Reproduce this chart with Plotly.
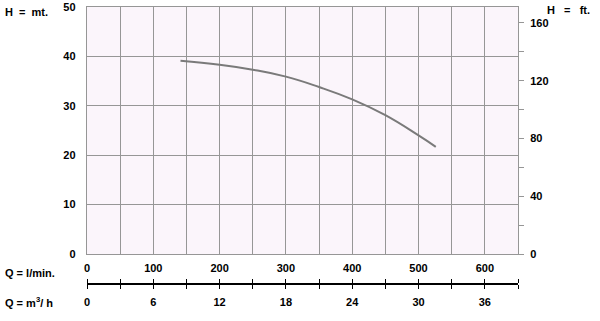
import plotly.graph_objects as go

# ---- data ----
q_lpm = [141, 200, 250, 300, 350, 400, 450, 500, 526]
h_m = [39.1, 38.3, 37.3, 35.9, 33.8, 31.3, 28.1, 24.0, 21.7]

lpm_ticks = [0, 50, 100, 150, 200, 250, 300, 350, 400, 450, 500, 550, 600, 650]
lpm_labels = ["0", "", "100", "", "200", "", "300", "", "400", "", "500", "", "600", ""]
m3h_labels = ["0", "", "6", "", "12", "", "18", "", "24", "", "30", "", "36", ""]

m_ticks = [0, 10, 20, 30, 40, 50]
ft_ticks = [0, 20, 40, 60, 80, 100, 120, 140, 160]
ft_labels = ["0", "", "40", "", "80", "", "120", "", "160"]

W, H = 600, 321
top, bottom_px, axis_px = 7, 254, 284
paper_h = H - top
y_dom0 = (H - bottom_px) / paper_h
pos_q = (H - axis_px) / paper_h

FONT = "Liberation Sans, Arial, sans-serif"
GRID = "#969696"

fig = go.Figure()
fig.add_trace(go.Scatter(x=q_lpm, y=h_m, mode="lines",
                         line=dict(color="#7a7a7a", width=2, shape="spline", smoothing=1.3),
                         hoverinfo="skip", showlegend=False))
fig.add_trace(go.Scatter(x=[], y=[], xaxis="x2", yaxis="y", showlegend=False))
fig.add_trace(go.Scatter(x=[], y=[], xaxis="x3", yaxis="y", showlegend=False))
fig.add_trace(go.Scatter(x=[], y=[], xaxis="x", yaxis="y2", showlegend=False))

tickfont = dict(family=FONT, size=11, color="black", weight="bold")

fig.update_layout(
    width=W, height=H,
    margin=dict(l=87, r=82, t=top, b=0, autoexpand=False),
    paper_bgcolor="white",
    plot_bgcolor="#fbf5fb",
    xaxis=dict(range=[0, 650], domain=[0, 1], dtick=50, showgrid=True, gridcolor=GRID, gridwidth=1.4,
               showticklabels=False, ticks="", showline=True, linecolor=GRID, linewidth=1.4, mirror=True,
               zeroline=False, fixedrange=True, automargin=False),
    yaxis=dict(range=[0, 50], domain=[y_dom0, 1], dtick=5, showgrid=True, gridcolor=GRID, gridwidth=1.4,
               tickvals=m_ticks, ticks="", tickfont=tickfont, ticklabelstandoff=8, automargin=False,
               showline=True, linecolor=GRID, linewidth=1.4, mirror=True, zeroline=False),
    yaxis2=dict(range=[0, 171], overlaying="y", side="right", anchor="x", tickvals=ft_ticks, ticktext=ft_labels,
                ticks="outside", ticklen=5, tickcolor=GRID, tickwidth=1.4, tickfont=tickfont, automargin=False,
                ticklabelstandoff=4, showgrid=False, showline=False, zeroline=False),
    xaxis2=dict(range=[0, 650], overlaying="x", anchor="free", position=pos_q, side="top", automargin=False,
                tickvals=lpm_ticks, ticktext=lpm_labels, ticks="outside", ticklen=4, tickcolor="black",
                tickwidth=1.2, tickfont=tickfont, showline=True, linecolor="black", linewidth=1.5,
                showgrid=False, zeroline=False, ticklabelstandoff=3),
    xaxis3=dict(range=[0, 650], overlaying="x", anchor="free", position=pos_q, side="bottom", automargin=False,
                tickvals=lpm_ticks, ticktext=m3h_labels, ticks="outside", ticklen=4, tickcolor="black",
                tickwidth=1.2, tickfont=tickfont, showline=False, showgrid=False, zeroline=False,
                ticklabelstandoff=4),
)

ann_font = dict(family=FONT, size=11, color="black", weight="bold")


def pxy(x, y):
    return (x - 87) / (W - 87 - 82), (H - y) / paper_h


for text, x, y in [("H&nbsp; =&nbsp; mt.", 3, 12), ("H&nbsp;&nbsp; =&nbsp;&nbsp; ft.", 545, 10),
                   ("Q = l/min.", 3, 273), ("Q = m<sup>3</sup>/ h", 3, 302)]:
    xp, yp = pxy(x, y)
    fig.add_annotation(text=text, x=xp, y=yp, xref="paper", yref="paper", xanchor="left", yanchor="middle",
                       showarrow=False, font=ann_font)

fig.write_html("out.html")
